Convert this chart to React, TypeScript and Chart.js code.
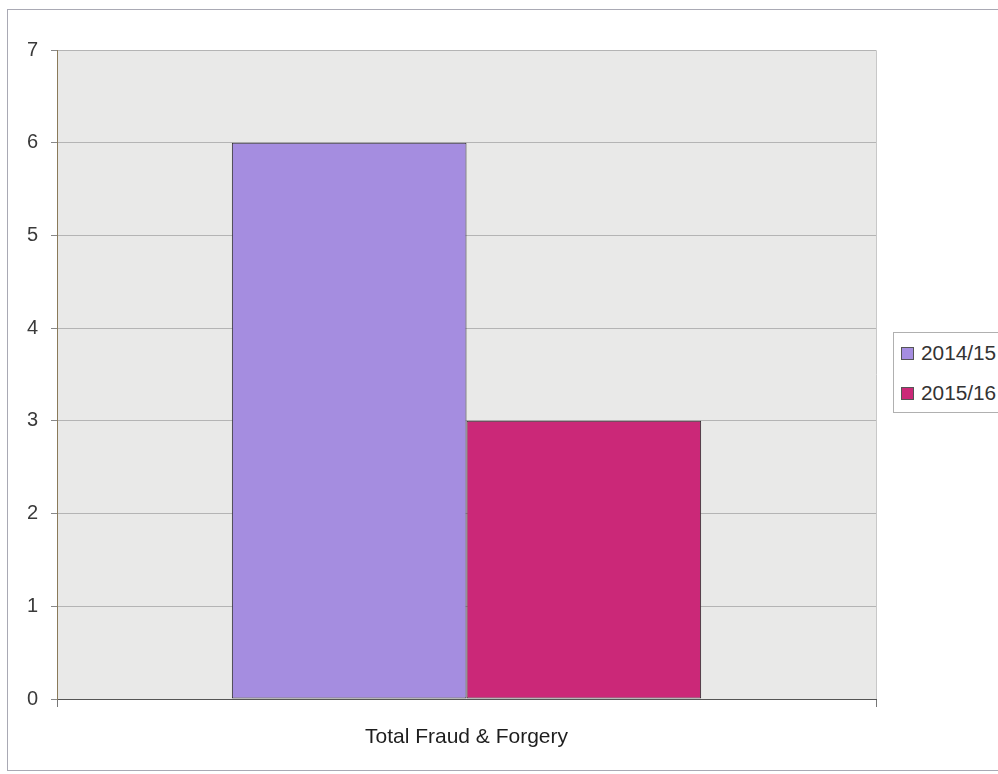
import React, { useEffect, useRef } from "react";
import { Chart, registerables } from "chart.js";

Chart.register(...registerables);

const categories: string[] = ["Total Fraud & Forgery"];
const seriesNames: string[] = ["2014/15", "2015/16"];
const values2014: number[] = [6];
const values2015: number[] = [3];
const seriesColors: string[] = ["#a58de0", "#cb2878"];
const yTicks: number[] = [0, 1, 2, 3, 4, 5, 6, 7];

const plotBg = {
  id: "plotBg",
  beforeDraw(chart: any) {
    const { ctx, chartArea } = chart;
    ctx.save();
    ctx.fillStyle = "#e9e9e8";
    ctx.fillRect(chartArea.left, chartArea.top, chartArea.right - chartArea.left, chartArea.bottom - chartArea.top);
    ctx.strokeStyle = "#c8c8c8";
    ctx.lineWidth = 1;
    ctx.beginPath();
    ctx.moveTo(chartArea.left, chartArea.top + 0.5);
    ctx.lineTo(chartArea.right + 0.5, chartArea.top + 0.5);
    ctx.lineTo(chartArea.right + 0.5, chartArea.bottom);
    ctx.stroke();
    ctx.restore();
  },
};

export default function App() {
  const ref = useRef<HTMLCanvasElement | null>(null);
  useEffect(() => {
    if (!ref.current) return;
    const chart = new Chart(ref.current, {
      type: "bar",
      data: {
        labels: categories,
        datasets: [
          {
            label: seriesNames[0],
            data: values2014,
            backgroundColor: seriesColors[0],
            borderColor: "#2a2a2a",
            borderWidth: 1,
            borderSkipped: false,
          },
          {
            label: seriesNames[1],
            data: values2015,
            backgroundColor: seriesColors[1],
            borderColor: "#2a2a2a",
            borderWidth: 1,
            borderSkipped: false,
          },
        ],
      },
      options: {
        responsive: false,
        animation: false,
        events: [],
        layout: { padding: { left: 0, top: 50, right: 122, bottom: 14 } },
        datasets: { bar: { categoryPercentage: 0.573, barPercentage: 1 } },
        plugins: {
          legend: { display: false },
          tooltip: { enabled: false },
        },
        scales: {
          x: {
            offset: true,
            grid: {
              offset: true,
              drawOnChartArea: false,
              drawTicks: true,
              tickLength: 8,
              color: "#777777",
            },
            border: { color: "#555555", width: 1 },
            ticks: {
              color: "#1e1e1e",
              font: { family: "'Liberation Sans', Arial, sans-serif", size: 21 },
              padding: 18,
            },
            afterFit(scale: any) {
              scale.height = 61;
            },
          },
          y: {
            min: 0,
            max: 7,
            afterBuildTicks(scale: any) {
              scale.ticks = yTicks.map((v) => ({ value: v }));
            },
            grid: {
              color: "#b4b4b4",
              tickLength: 6,
              tickColor: "#888888",
            },
            border: { color: "#8a7a5a", width: 1 },
            ticks: {
              color: "#3a3a3a",
              font: { family: "'Liberation Sans', Arial, sans-serif", size: 20 },
              padding: 13,
            },
            afterFit(scale: any) {
              scale.width = 57;
            },
          },
        },
      },
      plugins: [plotBg],
    });
    return () => chart.destroy();
  }, []);

  const legendFont = "'Liberation Sans', Arial, sans-serif";
  return (
    <div style={{ position: "absolute", left: 0, top: 0, width: 998, height: 774, background: "#ffffff", overflow: "hidden" }}>
      <div style={{ position: "absolute", left: 7, top: 9, width: 1100, height: 762, border: "1px solid #a9a9b4", boxSizing: "border-box" }} />
      <canvas ref={ref} width={998} height={774} style={{ position: "absolute", left: 0, top: 0 }} />
      <div
        style={{
          position: "absolute",
          left: 893,
          top: 332,
          width: 130,
          height: 81,
          border: "1px solid #b0b0b0",
          boxSizing: "border-box",
          background: "#ffffff",
          fontFamily: legendFont,
          fontSize: 20,
          color: "#333333",
        }}
      >
        {seriesNames.map((name, i) => (
          <div key={name} style={{ position: "absolute", left: 7, top: 8 + i * 40, height: 24, display: "flex", alignItems: "center", whiteSpace: "nowrap" }}>
            <span style={{ display: "inline-block", width: 11, height: 11, background: seriesColors[i], border: "1px solid #555", marginRight: 7 }} />
            <span style={{ display: "inline-block", transform: "scaleX(1.04)", transformOrigin: "left center" }}>{name}</span>
          </div>
        ))}
      </div>
    </div>
  );
}
